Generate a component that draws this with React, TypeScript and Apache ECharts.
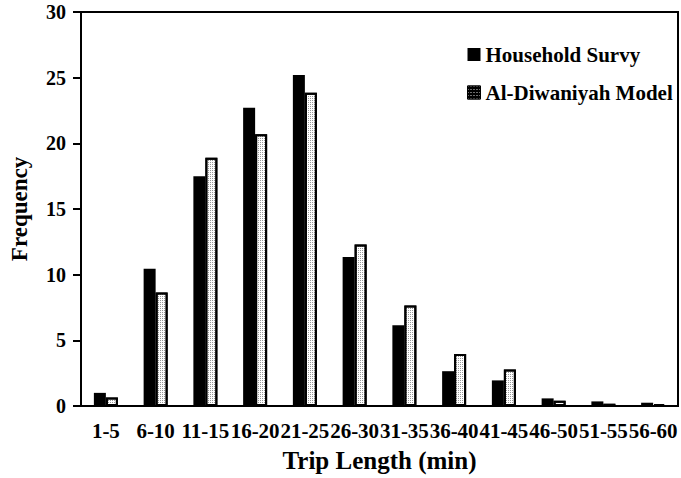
import React, { useEffect, useRef } from "react";
import * as echarts from "echarts";

const categories = ["1-5", "6-10", "11-15", "16-20", "21-25", "26-30", "31-35", "36-40", "41-45", "46-50", "51-55", "56-60"];
const householdSurvey = [1.0, 10.45, 17.5, 22.7, 25.2, 11.35, 6.15, 2.65, 1.95, 0.58, 0.35, 0.25];
const diwaniyahModel = [0.65, 8.65, 18.9, 20.7, 23.85, 12.3, 7.65, 3.95, 2.78, 0.4, 0.17, 0.15];
const yTicks = { min: 0, max: 30, interval: 5 };

const FONT = "'Liberation Serif', 'Times New Roman', serif";

export default function App() {
  const ref = useRef<HTMLDivElement>(null);
  useEffect(() => {
    if (!ref.current) return;
    const chart = echarts.init(ref.current, undefined, { renderer: "svg" });
    chart.setOption({
      animation: false,
      backgroundColor: "#fff",
      textStyle: { fontFamily: FONT },
      grid: {
        left: 78,
        right: 3,
        top: 12,
        bottom: 66,
        show: true,
        borderColor: "#000",
        borderWidth: 2,
      },
      legend: {
        orient: "vertical",
        left: 467,
        top: 44,
        padding: 0,
        itemWidth: 13,
        itemHeight: 13,
        itemGap: 17,
        icon: "rect",
        textStyle: { fontFamily: FONT, fontWeight: "bold", fontSize: 21, color: "#000" },
        data: [
          { name: "Household Survy" },
          {
            name: "Al-Diwaniyah Model",
            itemStyle: {
              color: "#000",
              borderColor: "#000",
              borderWidth: 1,
              decal: {
                symbol: "rect",
                symbolSize: 1,
                color: "rgba(255,255,255,0.85)",
                dashArrayX: [1, 2],
                dashArrayY: [1, 2],
              },
            },
          },
        ],
      },
      xAxis: {
        type: "category",
        data: categories,
        name: "Trip Length (min)",
        nameLocation: "middle",
        nameGap: 42,
        nameTextStyle: { fontFamily: FONT, fontWeight: "bold", fontSize: 25, color: "#000" },
        axisLine: { lineStyle: { color: "#000", width: 2 } },
        axisTick: { show: false },
        axisLabel: { interval: 0, fontFamily: FONT, fontWeight: "bold", fontSize: 21, color: "#000", margin: 14 },
      },
      yAxis: {
        type: "value",
        min: yTicks.min,
        max: yTicks.max,
        interval: yTicks.interval,
        name: "Frequency",
        nameLocation: "middle",
        nameGap: 50,
        nameTextStyle: { fontFamily: FONT, fontWeight: "bold", fontSize: 23, color: "#000" },
        axisLine: { show: true, lineStyle: { color: "#000", width: 2 } },
        axisTick: { show: true, length: 8, lineStyle: { color: "#000", width: 2 } },
        splitLine: { show: false },
        axisLabel: { fontFamily: FONT, fontWeight: "bold", fontSize: 20, color: "#000", margin: 15 },
      },
      series: [
        {
          name: "Household Survy",
          type: "bar",
          data: householdSurvey,
          barWidth: 12,
          barGap: "0%",
          itemStyle: { color: "#000", borderColor: "#000", borderWidth: 0 },
        },
        {
          name: "Al-Diwaniyah Model",
          type: "bar",
          data: diwaniyahModel,
          barWidth: 12,
          itemStyle: {
            color: "#ffffff",
            borderColor: "#000",
            borderWidth: 2,
            decal: {
              symbol: "rect",
              symbolSize: 1,
              color: "rgba(0,0,0,0.4)",
              dashArrayX: [1, 1],
              dashArrayY: [1, 1],
            },
          },
        },
      ],
    });
    return () => chart.dispose();
  }, []);
  return <div ref={ref} style={{ width: 681, height: 478, position: "absolute", left: 0, top: 0 }} />;
}
